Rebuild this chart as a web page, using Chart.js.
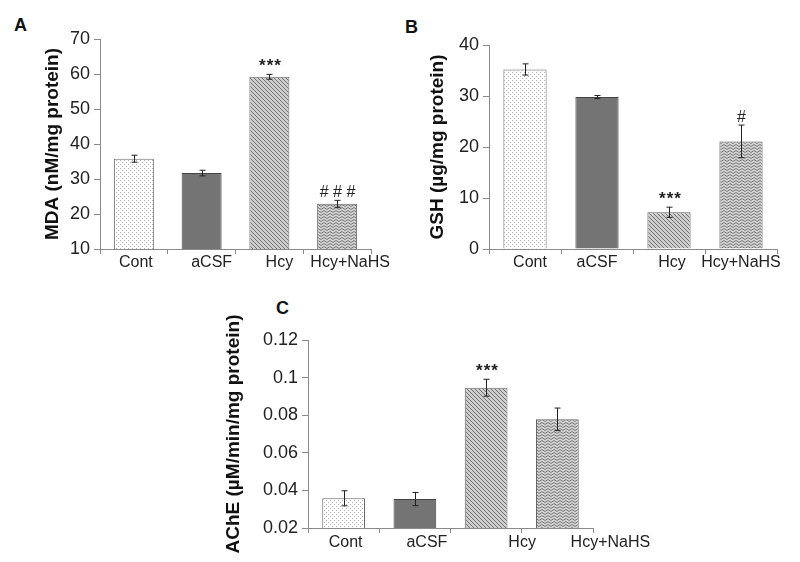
<!DOCTYPE html>
<html>
<head>
<meta charset="utf-8">
<script src="https://cdn.jsdelivr.net/npm/chart.js@4.4.1/dist/chart.umd.min.js"></script>
<style>
body { margin: 0; background: #fff; width: 800px; height: 562px; position: relative; overflow: hidden; }
.panel { position: absolute; }
.tag { position: absolute; font: bold 18px "Liberation Sans", Arial, sans-serif; color: #111; line-height: 20px; }
</style>
</head>
<body>
<div class="tag" style="left:14px;top:15px">A</div>
<div class="tag" style="left:405px;top:17px">B</div>
<div class="tag" style="left:276px;top:298px">C</div>
<div class="panel" style="left:0;top:0;width:400px;height:290px"><canvas id="chartA"></canvas></div>
<div class="panel" style="left:400px;top:0;width:400px;height:290px"><canvas id="chartB"></canvas></div>
<div class="panel" style="left:200px;top:290px;width:460px;height:272px"><canvas id="chartC"></canvas></div>
<script>
// groups
const categories = ['Cont', 'aCSF', 'Hcy', 'Hcy+NaHS'];

// A: MDA
const mdaValues = [35.8, 31.7, 59.2, 22.9];
const mdaErrors = [1.0, 0.8, 0.7, 1.0];
const mdaMarks = ['', '', '***', '# # #'];
const mdaTicks = [10, 20, 30, 40, 50, 60, 70];

// B: GSH
const gshValues = [35.2, 29.8, 7.2, 21.1];
const gshErrors = [1.1, 0.3, 1.0, 3.2];
const gshMarks = ['', '', '***', '#'];
const gshTicks = [0, 10, 20, 30, 40];

// C: AChE
const acheValues = [0.0358, 0.0354, 0.0946, 0.0778];
const acheErrors = [0.004, 0.0035, 0.0045, 0.006];
const acheMarks = ['', '', '***', ''];
const acheTicks = [0.02, 0.04, 0.06, 0.08, 0.1, 0.12];

Chart.defaults.font.family = '"Liberation Sans", Arial, sans-serif';
Chart.defaults.color = '#222';

// fill patterns for the bars
function makePattern(w, h, bg, draw) {
    const c = document.createElement('canvas');
    c.width = w;
    c.height = h;
    const g = c.getContext('2d');
    g.fillStyle = bg;
    g.fillRect(0, 0, w, h);
    draw(g);
    return document.createElement('canvas').getContext('2d').createPattern(c, 'repeat');
}

const dotFill = makePattern(4, 4, '#ffffff', g => {
    g.fillStyle = '#b0b0b0';
    g.fillRect(0, 0, 1, 1);
    g.fillRect(2, 2, 1, 1);
});
const hatchFill = makePattern(4, 4, '#cfcfcf', g => {
    g.strokeStyle = '#707070';
    g.lineWidth = 1;
    g.beginPath();
    g.moveTo(-1, -1); g.lineTo(5, 5);
    g.moveTo(-1, 3); g.lineTo(1, 5);
    g.moveTo(3, -1); g.lineTo(5, 1);
    g.stroke();
});
const zigzagFill = makePattern(6, 3, '#d4d4d4', g => {
    g.strokeStyle = '#767676';
    g.lineWidth = 1;
    g.beginPath();
    g.moveTo(0, 0.5); g.lineTo(3, 2.5); g.lineTo(6, 0.5);
    g.stroke();
});

const barFills = [dotFill, '#747474', hatchFill, zigzagFill];
const barBorders = ['#6a6a6a', '#444444', '#666666', '#666666'];

// error bars + significance marks
const errorBarPlugin = {
    id: 'errorBars',
    afterDatasetsDraw(chart) {
        const o = chart.options.plugins.errorBars;
        const ctx = chart.ctx;
        const y = chart.scales.y;
        const meta = chart.getDatasetMeta(0);
        const vals = chart.data.datasets[0].data;
        ctx.save();
        ctx.strokeStyle = '#222';
        ctx.lineWidth = 1;
        meta.data.forEach((bar, i) => {
            const x = Math.round(bar.x) + 0.5;
            const top = y.getPixelForValue(vals[i] + o.errors[i]);
            const bot = y.getPixelForValue(vals[i] - o.errors[i]);
            ctx.beginPath();
            ctx.moveTo(x, top); ctx.lineTo(x, bot);
            ctx.moveTo(x - 3, top); ctx.lineTo(x + 3, top);
            ctx.moveTo(x - 3, bot); ctx.lineTo(x + 3, bot);
            ctx.stroke();
            if (o.marks[i]) {
                ctx.fillStyle = '#222';
                const stars = o.marks[i].indexOf('*') >= 0;
                ctx.font = (stars ? 'bold 17px' : '16px') + ' "Liberation Sans", Arial, sans-serif';
                ctx.textAlign = 'center';
                ctx.textBaseline = 'alphabetic';
                ctx.letterSpacing = stars ? '1px' : '0px';
                ctx.fillText(o.marks[i], x + (stars ? 1 : 0), top - 3);
            }
        });
        ctx.restore();
    }
};

// category labels, placed like the original figure
const xLabelPlugin = {
    id: 'xLabels',
    afterDraw(chart) {
        const o = chart.options.plugins.xLabels;
        const ctx = chart.ctx;
        const xs = chart.scales.x;
        ctx.save();
        ctx.fillStyle = '#222';
        ctx.font = '16px "Liberation Sans", Arial, sans-serif';
        ctx.textAlign = 'center';
        ctx.textBaseline = 'middle';
        chart.data.labels.forEach((lab, i) => {
            ctx.fillText(lab, xs.getPixelForValue(i) + o.offsets[i], chart.chartArea.bottom + o.gap);
        });
        ctx.restore();
    }
};

function makeChart(id, p) {
    return new Chart(document.getElementById(id), {
        type: 'bar',
        data: {
            labels: categories,
            datasets: [{
                data: p.values,
                backgroundColor: barFills,
                borderColor: barBorders,
                borderWidth: 1,
                categoryPercentage: 1,
                barPercentage: p.barPct
            }]
        },
        plugins: [errorBarPlugin, xLabelPlugin],
        options: {
            responsive: true,
            maintainAspectRatio: false,
            animation: false,
            layout: { padding: { left: 0, right: p.right, top: p.top, bottom: 0 } },
            plugins: {
                legend: { display: false },
                tooltip: { enabled: false },
                errorBars: { errors: p.errors, marks: p.marks },
                xLabels: { offsets: p.labelOffsets, gap: p.labelGap }
            },
            scales: {
                x: {
                    afterFit: s => { s.height = p.xHeight; },
                    border: { display: true, color: '#8a8a8a' },
                    grid: { display: true, drawOnChartArea: false, drawTicks: true, tickLength: 5, color: '#8a8a8a', offset: true },
                    ticks: { display: false }
                },
                y: {
                    min: p.ticks[0],
                    max: p.ticks[p.ticks.length - 1],
                    afterBuildTicks: s => { s.ticks = p.ticks.map(v => ({ value: v })); },
                    afterFit: s => { s.width = p.yWidth; },
                    border: { display: true, color: '#8a8a8a' },
                    grid: { display: true, drawOnChartArea: false, drawTicks: true, tickLength: 6, color: '#8a8a8a' },
                    ticks: { color: '#222', font: { size: 18 }, padding: 4, callback: v => String(v) },
                    title: {
                        display: true,
                        text: p.title,
                        color: '#111',
                        font: { size: 19, weight: 'bold' },
                        padding: { top: p.titlePad, bottom: 0 }
                    }
                }
            }
        }
    });
}

makeChart('chartA', {
    values: mdaValues, errors: mdaErrors, marks: mdaMarks, ticks: mdaTicks,
    title: 'MDA (nM/mg protein)',
    yWidth: 100, xHeight: 41, top: 39, right: 29, titlePad: 41,
    barPct: 0.59, labelOffsets: [2, 10, 10, 13], labelGap: 14
});

makeChart('chartB', {
    values: gshValues, errors: gshErrors, marks: gshMarks, ticks: gshTicks,
    title: 'GSH (\u00b5g/mg protein)',
    yWidth: 89, xHeight: 41, top: 45, right: 23, titlePad: 26,
    barPct: 0.6, labelOffsets: [5, 0, 3, 0], labelGap: 14
});

makeChart('chartC', {
    values: acheValues, errors: acheErrors, marks: acheMarks, ticks: acheTicks,
    title: 'AChE (\u00b5M/min/mg protein)',
    yWidth: 108, xHeight: 34, top: 50, right: 67, titlePad: 22,
    barPct: 0.6, labelOffsets: [2, 12, 36, 53], labelGap: 15
});
</script>
</body>
</html>
